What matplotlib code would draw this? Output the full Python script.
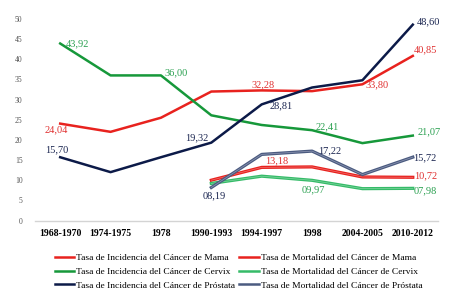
import matplotlib.pyplot as plt
import matplotlib.patheffects as pe
from matplotlib.lines import Line2D
import numpy as np

plt.rcParams['font.family'] = ['Liberation Serif', 'DejaVu Serif']

periodos = ['1968-1970', '1974-1975', '1978', '1990-1993', '1994-1997',
            '1998', '2004-2005', '2010-2012']

inc_mama = [24.04, 22.0, 25.5, 32.0, 32.28, 32.1, 33.80, 40.85]
inc_cervix = [43.92, 36.0, 36.00, 26.1, 23.7, 22.41, 19.2, 21.07]
inc_prostata = [15.70, 12.0, 15.7, 19.32, 28.81, 33.0, 34.8, 48.60]

# mortalidad solo desde 1990-1993
mort_mama = [10.0, 13.18, 13.3, 10.8, 10.72]
mort_cervix = [9.2, 11.0, 9.97, 7.9, 7.98]
mort_prostata = [8.19, 16.4, 17.22, 11.4, 15.72]

rojo = '#e8221e'
verde = '#16983a'
azul = '#0c1a48'
verde2 = '#35bb68'
gris_az = '#4b5b80'

fig = plt.figure(figsize=(4.77, 3.03), dpi=100)
ax = fig.add_axes([35 / 477, 1 - 220.5 / 303, 403 / 477, 201.5 / 303])

x = np.arange(len(periodos))
xm = x[3:]

ax.plot(x, inc_mama, color=rojo, lw=1.8)
ax.plot(x, inc_cervix, color=verde, lw=1.8)
ax.plot(x, inc_prostata, color=azul, lw=1.8)

def doble(c):
    return [pe.Stroke(linewidth=2.3, foreground=c), pe.Normal()]

ax.plot(xm, mort_mama, color='#f07070', lw=0.5, path_effects=doble(rojo))
ax.plot(xm, mort_cervix, color='#80d4a0', lw=0.5, path_effects=doble(verde2))
ax.plot(xm, mort_prostata, color='#9098b4', lw=0.5, path_effects=doble(gris_az))

def etiqueta(txt, i, v, dx, dy, c):
    ax.annotate(txt, (i, v), xytext=(dx, dy), textcoords='offset pixels',
                ha='center', va='center', fontsize=7.5, color=c)

def fmt(v):
    return ('%05.2f' % v).replace('.', ',')

# etiquetas de valores
etiqueta(fmt(inc_mama[0]), 0, inc_mama[0], -4, -6, '#e03030')
etiqueta(fmt(inc_mama[4]), 4, inc_mama[4], 1, 6, '#e03030')
etiqueta(fmt(inc_mama[6]), 6, inc_mama[6], 15, 0, '#e03030')
etiqueta(fmt(inc_mama[7]), 7, inc_mama[7], 13, 6, '#e03030')
etiqueta(fmt(inc_cervix[0]), 0, inc_cervix[0], 17, 0, '#2aa050')
etiqueta(fmt(inc_cervix[2]), 2, inc_cervix[2], 15, 3, '#2aa050')
etiqueta(fmt(inc_cervix[5]), 5, inc_cervix[5], 15, 3, '#2aa050')
etiqueta(fmt(inc_cervix[7]), 7, inc_cervix[7], 16, 4, '#2aa050')
etiqueta(fmt(inc_prostata[0]), 0, inc_prostata[0], -3, 7, '#1a2550')
etiqueta(fmt(inc_prostata[3]), 3, inc_prostata[3], -15, 5, '#1a2550')
etiqueta(fmt(inc_prostata[4]), 4, inc_prostata[4], 19, -1, '#1a2550')
etiqueta(fmt(inc_prostata[7]), 7, inc_prostata[7], 16, 3, '#1a2550')
etiqueta(fmt(mort_mama[1]), 4, mort_mama[1], 15, 7, '#e03030')
etiqueta(fmt(mort_mama[4]), 7, mort_mama[4], 13, 2, '#e03030')
etiqueta(fmt(mort_cervix[2]), 5, mort_cervix[2], 1, -9, '#2aa050')
etiqueta(fmt(mort_cervix[4]), 7, mort_cervix[4], 12, -2, '#2aa050')
etiqueta(fmt(mort_prostata[0]), 3, mort_prostata[0], 3, -8, '#1a2550')
etiqueta(fmt(mort_prostata[2]), 5, mort_prostata[2], 18, 0, '#1a2550')
etiqueta(fmt(mort_prostata[4]), 7, mort_prostata[4], 12, -1, '#1a2550')

ax.set_xlim(-0.5, 7.5)
ax.set_ylim(0, 50)
ax.set_yticks(range(0, 51, 5))
ax.set_xticks(x)
ax.set_xticklabels(periodos, fontsize=7, fontweight='bold')
ax.tick_params(axis='y', labelsize=5.5, labelcolor='#555555', length=0, pad=9)
ax.tick_params(axis='x', length=0, pad=6)
for s in ['top', 'right', 'left']:
    ax.spines[s].set_visible(False)
ax.spines['bottom'].set_color('#d4d4d4')
ax.spines['bottom'].set_linewidth(1.0)

nombres = ['Tasa de Incidencia del Cáncer de Mama',
           'Tasa de Incidencia del Cáncer de Cervix',
           'Tasa de Incidencia del Cáncer de Próstata',
           'Tasa de Mortalidad del Cáncer de Mama',
           'Tasa de Mortalidad del Cáncer de Cervix',
           'Tasa de Mortalidad del Cáncer de Próstata']
colores = [rojo, verde, azul, rojo, verde2, gris_az]
h = [Line2D([], [], color=c, lw=1.8) for c in colores]
fig.legend(h, nombres, ncol=2, loc='upper center', bbox_to_anchor=(0.5, 1 - 245 / 303),
           frameon=False, fontsize=6.8, handlelength=2.1, handletextpad=0.2,
           columnspacing=0.4, labelspacing=0.55)

fig.savefig('out.png', dpi=100)
